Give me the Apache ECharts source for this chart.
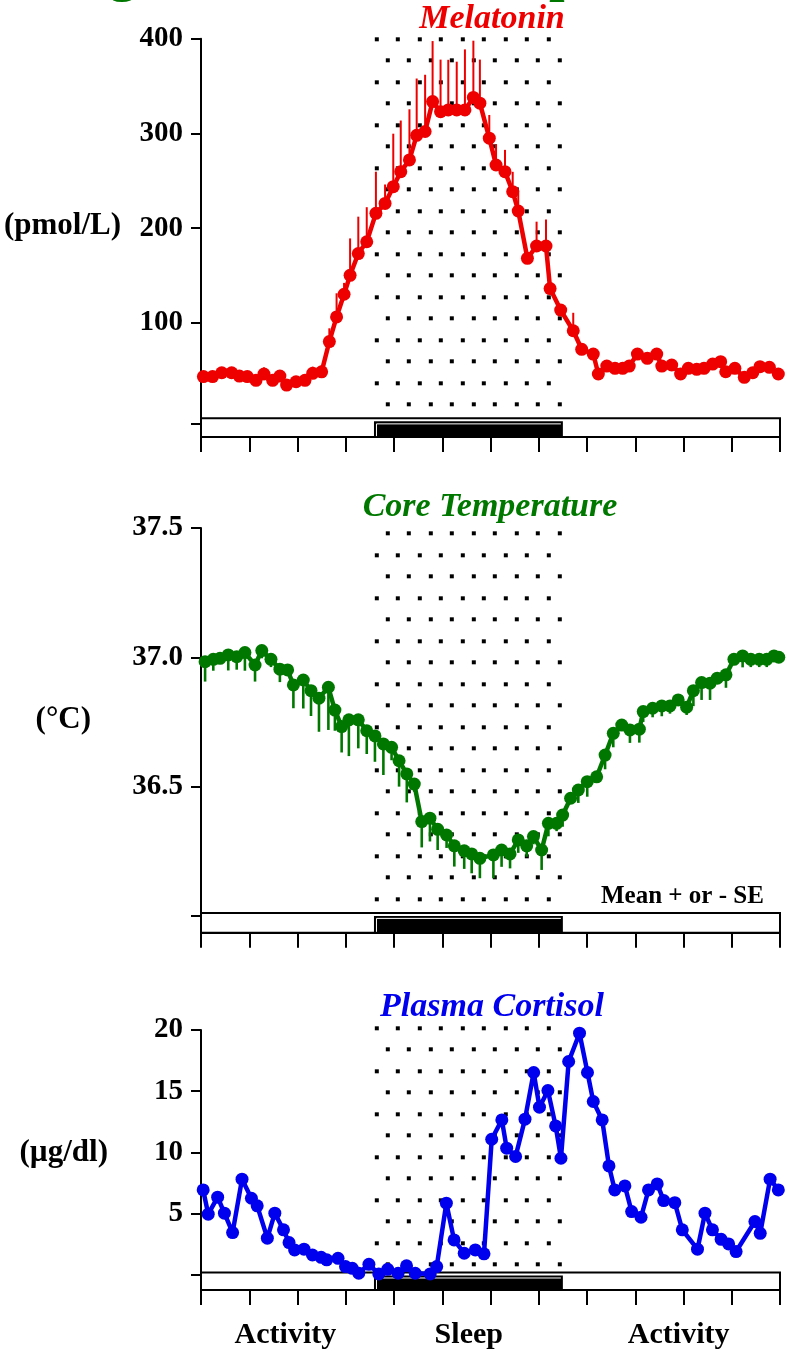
<!DOCTYPE html>
<html><head><meta charset="utf-8">
<script src="https://cdn.jsdelivr.net/npm/echarts@6/dist/echarts.min.js"></script>
<style>html,body{margin:0;padding:0;background:#fff}#c{width:787px;height:1351px}</style>
</head><body><div id="c"></div>
<script>
// ---------- data ----------
const sleepWindow = [7.17, 15.0];            // hours from start of record
const phaseNames = ['Activity', 'Sleep', 'Activity'];
const phaseCenters = [3.5, 11.1, 19.8];

const melTime = [0.10,0.48,0.86,1.27,1.59,1.92,2.28,2.61,2.97,3.27,3.55,3.94,4.31,4.63,5.00,5.32,5.62,5.93,6.18,6.52,6.87,7.25,7.63,7.97,8.28,8.64,8.94,9.29,9.60,9.93,10.25,10.60,10.94,11.29,11.56,11.95,12.23,12.60,12.92,13.15,13.53,13.91,14.30,14.47,14.91,15.43,15.78,16.26,16.47,16.82,17.16,17.48,17.75,18.09,18.50,18.89,19.10,19.51,19.88,20.20,20.55,20.85,21.21,21.54,21.75,22.13,22.52,22.87,23.17,23.56,23.93];
const melMean = [43,43,47,47,43.5,43,39,45.7,39,43.5,34,37.5,39,46.4,48,80,106,130,150,173,185.5,215.5,226,243.7,259.6,272,298,302,333.6,323,324.8,324.8,324.8,338,332,295,266.6,259.6,238.4,218,168,181,181,136,113.3,91.4,71.8,66.8,45.7,54.1,51.7,51.7,54.1,66.8,62.3,66.8,54.1,55.2,45.7,51.7,50.6,51.7,56.2,58.7,48.1,51.7,42.2,47,53.4,52.7,45.7];
const melSE = [0,0,0,0,0,0,0,7,0,0,0,0,0,7,7,14,25,12,39,39,36.5,44,20,56,54,53.5,60,60,64,55,53,51,64,60,46,24.5,22,23,21,22,0,25.7,28,0,0,19,0,5,0,0,0,0,0,0,0,0,0,0,0,0,0,0,0,0,0,0,0,0,0,0,0];

const tempTime = [0.17,0.51,0.79,1.13,1.48,1.82,2.24,2.52,2.90,3.27,3.59,3.83,4.24,4.56,4.89,5.28,5.55,5.83,6.13,6.52,6.87,7.21,7.56,7.90,8.21,8.53,8.84,9.15,9.49,9.81,10.18,10.50,10.91,11.22,11.56,12.12,12.46,12.81,13.15,13.50,13.78,14.12,14.40,14.74,14.99,15.32,15.64,16.01,16.40,16.75,17.09,17.44,17.78,18.17,18.33,18.72,19.10,19.44,19.78,20.13,20.41,20.75,21.10,21.40,21.76,22.09,22.45,22.79,23.14,23.45,23.75,23.95];
const tempMean = [36.983,36.992,36.996,37.009,37.002,37.018,36.970,37.026,36.992,36.954,36.951,36.893,36.912,36.871,36.842,36.884,36.796,36.732,36.758,36.758,36.716,36.696,36.665,36.652,36.600,36.549,36.510,36.365,36.378,36.335,36.313,36.271,36.252,36.240,36.223,36.236,36.255,36.240,36.294,36.271,36.307,36.255,36.358,36.358,36.390,36.455,36.487,36.519,36.538,36.622,36.706,36.738,36.719,36.722,36.790,36.803,36.812,36.812,36.835,36.807,36.871,36.902,36.900,36.919,36.932,36.992,37.005,36.992,36.992,36.992,37.005,37.000];
const tempSE = [0.077,0.044,0.02,0.06,0.05,0.07,0.064,0.03,0.03,0.05,0.02,0.09,0.11,0.098,0.13,0.165,0.08,0.10,0.14,0.11,0.09,0.10,0.12,0.05,0.10,0.11,0.03,0.10,0.09,0.08,0.05,0.08,0.07,0.075,0.077,0.09,0.065,0.056,0.05,0.042,0.03,0.077,0.05,0.03,0.045,0.02,0.05,0.058,0.02,0.055,0.054,0.02,0.05,0.052,0.04,0.035,0.04,0.03,0.02,0.03,0.06,0.067,0.065,0.02,0.05,0.02,0.044,0.03,0.03,0.03,0.02,0.02];

const cortTime = [0.09,0.30,0.69,0.97,1.31,1.70,2.09,2.33,2.75,3.06,3.42,3.65,3.88,4.27,4.62,4.98,5.21,5.68,5.99,6.27,6.54,6.96,7.37,7.74,8.17,8.52,8.88,9.50,9.77,10.17,10.49,10.91,11.37,11.73,12.05,12.47,12.67,13.04,13.43,13.79,14.03,14.38,14.70,14.92,15.24,15.69,16.02,16.26,16.63,16.91,17.15,17.57,17.85,18.24,18.55,18.91,19.18,19.64,19.95,20.58,20.89,21.20,21.56,21.87,22.18,22.96,23.18,23.59,23.93];
const cortMean = [6.94,4.96,6.35,5.04,3.46,7.82,6.26,5.64,3.0,5.04,3.68,2.64,2.04,2.1,1.63,1.44,1.23,1.36,0.68,0.54,0.14,0.87,0.08,0.46,0.14,0.74,0.14,0.08,0.68,5.86,2.86,1.77,2.04,1.72,11.08,12.66,10.35,9.67,12.72,16.53,13.7,15.06,12.17,9.53,17.43,19.74,16.53,14.16,12.66,8.9,6.94,7.27,5.17,4.71,6.94,7.43,6.07,5.9,3.68,2.1,5.04,3.68,2.91,2.53,1.91,4.36,3.4,7.82,6.94];

const melTickMarks = [-7, 100, 200, 300, 400];
const melTicks = [100, 200, 300, 400];
const tempTickMarks = [36.0, 36.5, 37.0, 37.5];
const tempTicks = [36.5, 37.0, 37.5];
const cortTickMarks = [0, 5, 10, 15, 20];
const cortTicks = [5, 10, 15, 20];

// ---------- styling / layout ----------
const FONT = 'Liberation Serif';
const RED = '#ee0000', GREEN = '#007800', BLUE = '#0000ee';
const panels = [
  {top: 38.8, height: 398.3, min: -21, max: 400, barTop: -1.2, marks: melTickMarks, labels: melTicks, fmt: v => String(v)},
  {top: 527.9, height: 404.9, min: 35.935, max: 37.5, barTop: 36.012, marks: tempTickMarks, labels: tempTicks, fmt: v => v.toFixed(1)},
  {top: 1030, height: 260, min: -1.23, max: 20, barTop: 0.2, marks: cortTickMarks, labels: cortTicks, fmt: v => String(v)}
];

const tile = document.createElement('canvas');
tile.width = 43; tile.height = 43;
(function () {
  const g = tile.getContext('2d');
  g.fillStyle = '#000';
  g.fillRect(0, 0, 4, 4); g.fillRect(21, 0, 4, 4);
  g.fillRect(11, 21, 4, 4); g.fillRect(32, 21, 4, 4);
})();
const dotPattern = {image: tile, repeat: 'repeat', x: 374.8, y: 37.3};

const zip = (a, b) => a.map((t, i) => [t, b[i]]);
const zip3 = (a, b, c) => a.map((t, i) => [t, b[i], c[i]]);

function dotsRender(cfg) {
  return function (params, api) {
    const a = api.coord([sleepWindow[0], cfg.max]);
    const b = api.coord([sleepWindow[1], cfg.barTop]);
    return {type: 'rect', shape: {x: a[0], y: a[1] - 4, width: b[0] - a[0], height: b[1] - a[1] + 4},
            style: {fill: dotPattern}};
  };
}
function barsRender(cfg) {
  return function (params, api) {
    const a = api.coord([0, cfg.barTop]), b = api.coord([24, cfg.min]);
    const s0 = api.coord([sleepWindow[0], cfg.min])[0], s1 = api.coord([sleepWindow[1], cfg.min])[0];
    const top = a[1], bot = b[1];
    return {type: 'group', children: [
      {type: 'rect', shape: {x: a[0], y: top, width: b[0] - a[0], height: bot - top}, style: {fill: '#fff', stroke: '#000', lineWidth: 2}},
      {type: 'rect', shape: {x: s0, y: top + 3, width: s1 - s0, height: bot - top - 3}, style: {fill: '#000'}},
      {type: 'polyline', shape: {points: [[s0 + 2.5, bot - 1], [s0 + 2.5, top + 5.5], [s1 - 2, top + 5.5]]}, style: {stroke: '#fff', lineWidth: 1, fill: null}}
    ]};
  };
}
function errRender(color, dir, w) {
  return function (params, api) {
    const x = api.value(0), m = api.value(1), e = api.value(2);
    if (!e) return null;
    const p0 = api.coord([x, m]), p1 = api.coord([x, m + dir * e]);
    return {type: 'line', shape: {x1: p0[0], y1: p0[1], x2: p1[0], y2: p1[1]}, style: {stroke: color, lineWidth: w}};
  };
}

const grid = panels.map(p => ({left: 201, width: 579, top: p.top, height: p.height}));
const xAxis = panels.map((p, i) => ({
  type: 'value', gridIndex: i, min: 0, max: 24, interval: 2,
  axisLine: {onZero: false, lineStyle: {color: '#000', width: 2}},
  axisTick: {show: true, length: 15, lineStyle: {color: '#000', width: 2}},
  splitLine: {show: false},
  axisLabel: i === 2 ? {
    show: true, customValues: phaseCenters, margin: 30,
    formatter: v => phaseNames[phaseCenters.indexOf(v)],
    fontFamily: FONT, fontWeight: 'bold', fontSize: 30, color: '#000'
  } : {show: false}
}));
const yAxis = panels.map((p, i) => ({
  type: 'value', gridIndex: i, min: p.min, max: p.max,
  axisLine: {show: true, onZero: false, lineStyle: {color: '#000', width: 2}},
  axisTick: {show: true, length: 10, customValues: p.marks, lineStyle: {color: '#000', width: 2}},
  splitLine: {show: false},
  axisLabel: {customValues: p.labels, formatter: p.fmt, margin: 18,
    fontFamily: FONT, fontWeight: 'bold', fontSize: 29, color: '#000'}
}));

const series = [];
panels.forEach((p, i) => {
  series.push({type: 'custom', xAxisIndex: i, yAxisIndex: i, data: [[sleepWindow[0], p.max]], renderItem: dotsRender(p), clip: false, z: 1, silent: true});
  series.push({type: 'custom', xAxisIndex: i, yAxisIndex: i, data: [[0, p.barTop]], renderItem: barsRender(p), clip: false, z: 3, silent: true});
});
series.push({type: 'custom', xAxisIndex: 0, yAxisIndex: 0, data: zip3(melTime, melMean, melSE), encode: {x: 0, y: 1}, renderItem: errRender(RED, 1, 2), z: 4});
series.push({type: 'line', xAxisIndex: 0, yAxisIndex: 0, data: zip(melTime, melMean), symbol: 'circle', symbolSize: 13,
  itemStyle: {color: RED}, lineStyle: {color: RED, width: 4.5}, z: 5});
series.push({type: 'custom', xAxisIndex: 1, yAxisIndex: 1, data: zip3(tempTime, tempMean, tempSE), encode: {x: 0, y: 1}, renderItem: errRender(GREEN, -1, 2.6), z: 4});
series.push({type: 'line', xAxisIndex: 1, yAxisIndex: 1, data: zip(tempTime, tempMean), symbol: 'circle', symbolSize: 13,
  itemStyle: {color: GREEN}, lineStyle: {color: GREEN, width: 4.5}, z: 5});
series.push({type: 'line', xAxisIndex: 2, yAxisIndex: 2, data: zip(cortTime, cortMean), symbol: 'circle', symbolSize: 13,
  itemStyle: {color: BLUE}, lineStyle: {color: BLUE, width: 4.5}, z: 5});

const titleStyle = (color) => ({fontFamily: FONT, fontWeight: 'bold', fontStyle: 'italic', fontSize: 34, fill: color, align: 'center', verticalAlign: 'middle'});
const unitStyle = {fontFamily: FONT, fontWeight: 'bold', fontSize: 31, fill: '#000', align: 'right', verticalAlign: 'middle'};

const graphic = [
  {type: 'text', x: -22, y: 4, style: {text: 'Changes in Human Sleep', fontFamily: FONT, fontWeight: 'bold', fontSize: 56, fill: GREEN, align: 'left', verticalAlign: 'bottom'}},
  {type: 'text', x: 492, y: 19, style: Object.assign({text: 'Melatonin'}, titleStyle(RED))},
  {type: 'text', x: 490, y: 507, style: Object.assign({text: 'Core Temperature'}, titleStyle(GREEN))},
  {type: 'text', x: 492, y: 1007, style: Object.assign({text: 'Plasma Cortisol'}, titleStyle(BLUE))},
  {type: 'text', x: 121, y: 226, style: Object.assign({text: '(pmol/L)'}, unitStyle)},
  {type: 'text', x: 91, y: 720, style: Object.assign({text: '(°C)'}, unitStyle)},
  {type: 'text', x: 108, y: 1153, style: Object.assign({text: '(µg/dl)'}, unitStyle)},
  {type: 'text', x: 601, y: 897, style: {text: 'Mean + or - SE', fontFamily: FONT, fontWeight: 'bold', fontSize: 25, fill: '#000', align: 'left', verticalAlign: 'middle'}}
];

const chart = echarts.init(document.getElementById('c'), null, {renderer: 'canvas'});
chart.setOption({animation: false, backgroundColor: '#fff', grid, xAxis, yAxis, series, graphic});
</script>
</body></html>
